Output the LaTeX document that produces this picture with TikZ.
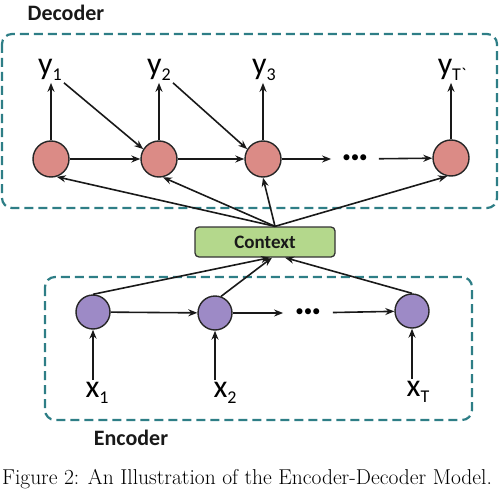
\documentclass[tikz,border=0pt]{standalone}
\usepackage{fontspec}
\newfontfamily\cf{Carlito}
\usetikzlibrary{arrows.meta}
\definecolor{decc}{HTML}{DB8B86}
\definecolor{encc}{HTML}{9D8AC6}
\definecolor{ctxg}{HTML}{B4D88C}
\definecolor{tealc}{HTML}{2E7E86}
\newcommand{\lsub}[1]{\raisebox{-6pt}{\fontsize{18}{18}\selectfont #1}}
\begin{document}
\begin{tikzpicture}[x=1pt,y=-1pt,
  >={Stealth[length=9pt,width=7pt]},
  arr/.style={->,line width=1.6pt,draw=black!90},
  dbox/.style={draw=tealc,line width=2.2pt,dash pattern=on 9pt off 5pt,rounded corners=10pt},
  dcirc/.style={circle,draw=black!85,line width=1.4pt,fill=decc,minimum size=36pt,inner sep=0pt},
  ecirc/.style={circle,draw=black!85,line width=1.4pt,fill=encc,minimum size=34pt,inner sep=0pt},
  lab/.style={inner sep=2pt,font=\cf\fontsize{32}{32}\selectfont},
  title/.style={inner sep=0pt,font=\cf\bfseries\fontsize{22}{24}\selectfont,text=black!90},
  dotsn/.style={inner ysep=2pt,inner xsep=11pt,font=\cf\fontsize{17}{17}\selectfont},
  ctxbox/.style={draw=black!80,line width=1.3pt,fill=ctxg,rounded corners=4pt,minimum width=140pt,minimum height=30pt,inner sep=0pt,font=\cf\bfseries\fontsize{19}{20}\selectfont,text=black!90}
]
\useasboundingbox (0,0) rectangle (499,500);
% boxes
\draw[dbox] (2,34) rectangle (497,208);
\draw[dbox] (45,277) rectangle (472,420);
\node[title] (dect) at (66,13) {Decoder};
\node[title] (enct) at (131,438) {Encoder};
% decoder
\node[dcirc] (d1) at (51,159) {};
\node[dcirc] (d2) at (159,159) {};
\node[dcirc] (d3) at (263,159) {};
\node[dcirc] (d4) at (451,158) {};
\node[dotsn] (dd) at (355,159) {\textbullet\textbullet\textbullet};
\node[lab] (y1) at (50,70) {y\lsub{1}};
\node[lab] (y2) at (159,70) {y\lsub{2}};
\node[lab] (y3) at (264,70) {y\lsub{3}};
\node[lab] (y4) at (452,70) {y\lsub{T\textasciigrave}};
\draw[arr] (d1.north) -- (d1.north |- y1.south);
\draw[arr] (d2.north) -- (d2.north |- y2.south);
\draw[arr] (d3.north) -- (d3.north |- y3.south);
\draw[arr] (d4.north) -- (d4.north |- y4.south);
\draw[arr] (y1.south east) -- (d2.148);
\draw[arr] (y2.south east) -- (d3.148);
\draw[arr] (d1) -- (d2);
\draw[arr] (d2) -- (d3);
\draw[arr] (d3) -- (dd);
\draw[arr] (dd) -- (d4);
% context
\node[ctxbox] (ctx) at (265,242) {Context};
\draw[arr] ([xshift=10pt]ctx.north) -- (d1.-72);
\draw[arr] ([xshift=10pt]ctx.north) -- (d2.-78);
\draw[arr] ([xshift=10pt]ctx.north) -- (d3.south);
\draw[arr] ([xshift=10pt]ctx.north) -- (d4.-102);
% encoder
\node[ecirc] (e1) at (93,312) {};
\node[ecirc] (e2) at (215,313) {};
\node[ecirc] (e3) at (412,311) {};
\node[dotsn,inner xsep=12pt] (ed) at (308,313) {\textbullet\textbullet\textbullet};
\node[lab] (x1) at (97,393) {x\lsub{1}};
\node[lab] (x2) at (225,393) {x\lsub{2}};
\node[lab] (x3) at (418,392) {x\lsub{T}};
\draw[arr] (e1.south |- x1.north) -- (e1.south);
\draw[arr] (e2.south |- x2.north) -- (e2.south);
\draw[arr] (e3.south |- x3.north) -- (e3.south);
\draw[arr] (e1) -- (e2);
\draw[arr] (e2) -- (ed);
\draw[arr] (ed) -- (e3);
\draw[arr] (e1.north) -- ([xshift=5pt]ctx.south);
\draw[arr] (e2.70) -- ([xshift=7pt]ctx.south);
\draw[arr] (e3.north) -- ([xshift=20pt]ctx.south);
% caption
\node[inner sep=0pt,font=\fontsize{21.5}{24}\selectfont] (cap) at (247,479) {Figure 2: An Illustration of the Encoder-Decoder Model.};
\end{tikzpicture}
\end{document}
